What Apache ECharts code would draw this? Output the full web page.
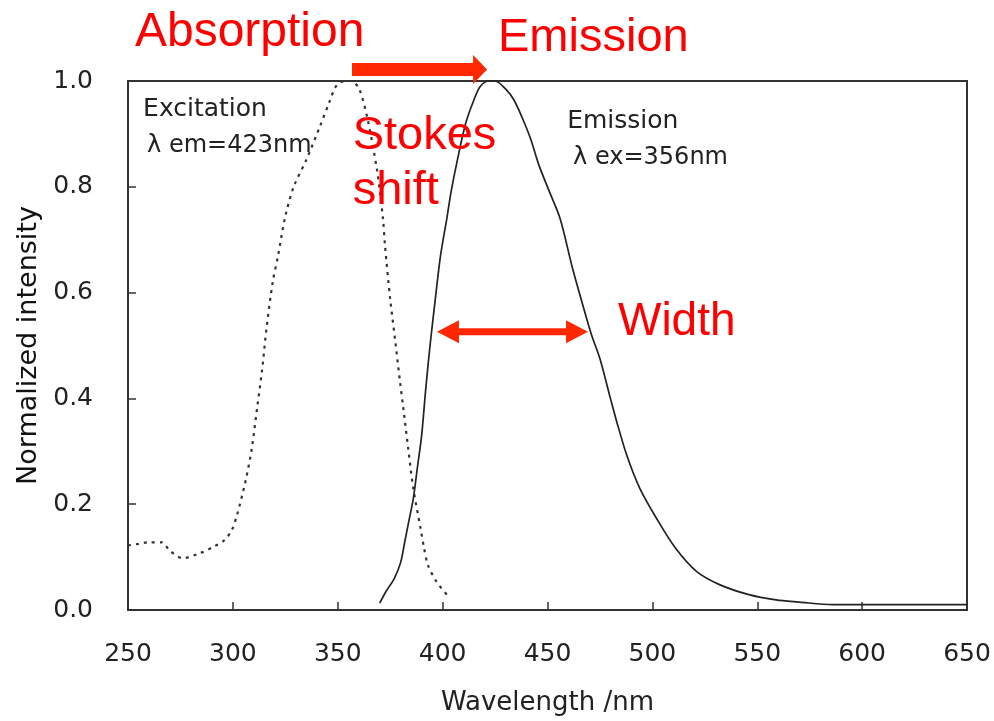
<!DOCTYPE html>
<html>
<head>
<meta charset="utf-8">
<script src="https://cdn.jsdelivr.net/npm/echarts@6/dist/echarts.min.js"></script>
<style>
  html, body { margin: 0; padding: 0; background: #fff; }
  #chart { width: 994px; height: 721px; }
</style>
</head>
<body>
<div id="chart"></div>
<script>
// excitation spectrum (dotted)
const excitationNm = [250, 255, 260, 266, 270, 276, 284, 291, 296, 299.5, 302, 306, 309, 311.5, 314, 316, 319, 321.5, 325, 329, 335, 341.5, 346, 349.5, 353.5, 356, 360, 364, 368.7, 371.6, 372.5, 375, 377.3, 379.7, 381.3, 383.6, 386, 389.5, 391, 393, 397, 402];
const excitationVal = [0.122, 0.125, 0.128, 0.128, 0.112, 0.098, 0.107, 0.12, 0.132, 0.151, 0.18, 0.243, 0.305, 0.38, 0.456, 0.531, 0.62, 0.669, 0.744, 0.80, 0.851, 0.914, 0.96, 0.992, 1.0, 1.0, 0.987, 0.932, 0.832, 0.738, 0.69, 0.588, 0.512, 0.431, 0.38, 0.305, 0.23, 0.154, 0.12, 0.085, 0.054, 0.029];

// emission spectrum (solid)
const emissionNm = [370, 373, 377, 380, 382, 384, 386, 388, 390, 392, 394, 396, 399, 402, 404, 407, 411, 415, 418, 422, 425, 430, 434, 438, 442, 446, 451, 456, 462, 468, 471, 475, 480, 483, 488, 494, 502, 511, 521, 532, 546, 559, 570, 586, 600, 650];
const emissionVal = [0.013, 0.035, 0.06, 0.09, 0.13, 0.17, 0.21, 0.27, 0.33, 0.42, 0.50, 0.57, 0.67, 0.74, 0.79, 0.85, 0.92, 0.965, 0.99, 1.0, 1.0, 0.985, 0.964, 0.93, 0.89, 0.84, 0.79, 0.74, 0.645, 0.56, 0.52, 0.475, 0.40, 0.356, 0.29, 0.23, 0.173, 0.117, 0.073, 0.048, 0.029, 0.019, 0.015, 0.01, 0.01, 0.01];

const xTickLabels = ['250', '300', '350', '400', '450', '500', '550', '600', '650'];
const yTickLabels = ['0.0', '0.2', '0.4', '0.6', '0.8', '1.0'];

const chart = echarts.init(document.getElementById('chart'));

const blackFont = 'DejaVu Sans';
const redFont = 'Liberation Sans';

chart.setOption({
  animation: false,
  grid: {
    left: 128, right: 27, top: 81, bottom: 109,
    show: true, borderColor: '#333', borderWidth: 2, backgroundColor: '#fff'
  },
  xAxis: {
    type: 'value', min: 250, max: 650, interval: 50,
    name: 'Wavelength /nm', nameLocation: 'middle', nameGap: 80,
    nameTextStyle: { fontFamily: blackFont, fontSize: 26, color: '#222' },
    axisLine: { show: true, lineStyle: { color: '#333', width: 2 } },
    axisTick: { show: true, inside: true, length: 8, lineStyle: { color: '#333', width: 1.5 } },
    axisLabel: {
      margin: 32, fontFamily: blackFont, fontSize: 25, color: '#222',
      formatter: v => xTickLabels[Math.round((v - 250) / 50)]
    },
    splitLine: { show: false }
  },
  yAxis: {
    type: 'value', min: 0, max: 1, interval: 0.2,
    name: 'Normalized intensity', nameLocation: 'middle', nameGap: 82,
    nameTextStyle: { fontFamily: blackFont, fontSize: 27, color: '#111' },
    axisLine: { show: true, lineStyle: { color: '#333', width: 2 } },
    axisTick: { show: true, inside: true, length: 8, lineStyle: { color: '#333', width: 1.5 } },
    axisLabel: {
      margin: 35, fontFamily: blackFont, fontSize: 25, color: '#222',
      formatter: v => yTickLabels[Math.round(v / 0.2)]
    },
    splitLine: { show: false }
  },
  series: [
    {
      name: 'Excitation', type: 'line', showSymbol: false, smooth: 0.3,
      lineStyle: { color: '#333', width: 2.2, type: [3, 5] },
      data: excitationNm.map((x, i) => [x, excitationVal[i]])
    },
    {
      name: 'Emission', type: 'line', showSymbol: false, smooth: 0.3,
      lineStyle: { color: '#222', width: 1.7 },
      data: emissionNm.map((x, i) => [x, emissionVal[i]])
    }
  ]
});

// annotations, anchored in data space
function at(nm, v) {
  return chart.convertToPixel({ gridIndex: 0 }, [nm, v]);
}

function arrow(nm1, nm2, v, h, headLen, headHalf, both) {
  const a = at(nm1, v), b = at(nm2, v);
  const x1 = a[0], x2 = b[0], y = a[1];
  let pts;
  if (both) {
    pts = [[x1, y], [x1 + headLen, y - headHalf], [x1 + headLen, y - h], [x2 - headLen, y - h],
      [x2 - headLen, y - headHalf], [x2, y], [x2 - headLen, y + headHalf], [x2 - headLen, y + h],
      [x1 + headLen, y + h], [x1 + headLen, y + headHalf]];
  } else {
    pts = [[x1, y - h], [x2 - headLen, y - h], [x2 - headLen, y - headHalf], [x2, y],
      [x2 - headLen, y + headHalf], [x2 - headLen, y + h], [x1, y + h]];
  }
  return { type: 'polygon', shape: { points: pts }, style: { fill: '#ff2800' }, z: 100 };
}

function label(text, nm, v, font, size, color) {
  const p = at(nm, v);
  return {
    type: 'text', x: p[0], y: p[1], z: 100,
    style: { text: text, font: size + 'px "' + font + '"', fill: color, align: 'left', verticalAlign: 'middle' }
  };
}

chart.setOption({
  graphic: [
    arrow(356.8, 421.2, 1.0217, 6.5, 14, 14.5, false),
    arrow(397.3, 469.3, 0.526, 3.5, 22, 11.5, true),
    label('Absorption', 253.3, 1.0914, redFont, 48, '#ff0000'),
    label('Emission', 426.4, 1.0819, redFont, 47, '#ff0000'),
    label('Stokes', 357.1, 0.8956, redFont, 47, '#ff0000'),
    label('shift', 357.1, 0.7916, redFont, 47, '#ff0000'),
    label('Width', 483.6, 0.5433, redFont, 46, '#ff0000'),
    label('Excitation', 257.2, 0.947, blackFont, 25, '#222'),
    label('λ em=423nm', 259.1, 0.878, blackFont, 24, '#222'),
    label('Emission', 459.4, 0.924, blackFont, 25, '#222'),
    label('λ ex=356nm', 462.2, 0.855, blackFont, 24, '#222')
  ]
});
</script>
</body>
</html>
